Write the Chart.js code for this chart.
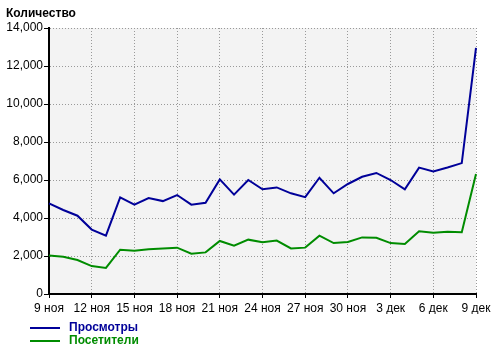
<!DOCTYPE html>
<html>
<head>
<meta charset="utf-8">
<script src="https://cdn.jsdelivr.net/npm/chart.js@4"></script>
<style>
  body { margin: 0; background: #fff; }
  #wrap { position: relative; width: 500px; height: 351px; font-family: "Liberation Sans", Arial, sans-serif; }
  #titre { position: absolute; left: 6px; top: 6px; font-size: 12px; font-weight: bold; color: #000; }
  .leg { position: absolute; left: 30px; font-size: 12px; font-weight: bold; }
  .leg span.trait { position: absolute; left: 0; top: 7px; width: 30px; height: 2px; }
  .leg span.txt { position: absolute; left: 39px; top: 0; white-space: nowrap; }
</style>
</head>
<body>
<div id="wrap">
  <canvas id="myChart" width="500" height="351"></canvas>
  <div id="titre">Количество</div>
  <div class="leg" style="top:320px;color:#000099"><span class="trait" style="background:#000099"></span><span class="txt">Просмотры</span></div>
  <div class="leg" style="top:333px;color:#008c00"><span class="trait" style="background:#008c00"></span><span class="txt">Посетители</span></div>
</div>
<script>
// jours du 9 nov au 9 dec
let jours = ["9 ноя","10 ноя","11 ноя","12 ноя","13 ноя","14 ноя","15 ноя","16 ноя","17 ноя","18 ноя","19 ноя",
    "20 ноя","21 ноя","22 ноя","23 ноя","24 ноя","25 ноя","26 ноя","27 ноя","28 ноя","29 ноя","30 ноя",
    "1 дек","2 дек","3 дек","4 дек","5 дек","6 дек","7 дек","8 дек","9 дек"];

let prosmotry = [4770, 4420, 4120, 3390, 3070, 5090, 4700, 5050, 4890, 5210, 4700, 4800, 6030, 5230, 6000, 5510,
    5610, 5300, 5100, 6120, 5300, 5790, 6170, 6370, 6000, 5510, 6650, 6450, 6660, 6890, 12950];
let posetiteli = [2030, 1960, 1790, 1470, 1370, 2330, 2280, 2350, 2390, 2440, 2120, 2190, 2790, 2540, 2860, 2720,
    2810, 2400, 2440, 3070, 2680, 2740, 2980, 2960, 2680, 2630, 3300, 3230, 3280, 3250, 6320];

let yTicks = [0, 2000, 4000, 6000, 8000, 10000, 12000, 14000];

// fond gris de la zone du graphique
let fondGris = {
    id: 'fondGris',
    beforeDraw(chart) {
        let a = chart.chartArea;
        let ctx = chart.ctx;
        ctx.save();
        ctx.fillStyle = '#f3f3f3';
        ctx.fillRect(a.left, a.top, a.right - a.left, a.bottom - a.top);
        ctx.restore();
    }
};

let ctx = document.getElementById('myChart').getContext('2d');
let chart = new Chart(ctx, {
    type: 'line',
    data: {
        labels: jours,
        datasets: [
            { label: 'Просмотры', data: prosmotry, borderColor: '#000099', borderWidth: 2, pointRadius: 0, tension: 0, fill: false },
            { label: 'Посетители', data: posetiteli, borderColor: '#008c00', borderWidth: 2, pointRadius: 0, tension: 0, fill: false }
        ]
    },
    options: {
        responsive: false,
        animation: false,
        layout: { padding: { top: 28, right: 24, bottom: 37, left: 0 } },
        plugins: { legend: { display: false }, tooltip: { enabled: false } },
        font: { family: '"Liberation Sans", Arial, sans-serif', size: 12 },
        scales: {
            x: {
                afterFit: s => { s.height = 20; },
                grid: { color: '#999', tickColor: '#000', tickLength: 4, tickWidth: 1 },
                border: { color: '#000', width: 2, dash: [1, 2] },
                ticks: {
                    autoSkip: false, maxRotation: 0, padding: 3, color: '#000',
                    font: { family: '"Liberation Sans", Arial, sans-serif', size: 12 },
                    callback: function(value, index) { return index % 3 === 0 ? this.getLabelForValue(value) : null; }
                }
            },
            y: {
                min: 0, max: 14000,
                afterFit: s => { s.width = 49; },
                afterBuildTicks: s => { s.ticks = yTicks.map(v => ({ value: v })); },
                grid: { color: '#999', tickColor: '#000', tickLength: 5, tickWidth: 1 },
                border: { color: '#000', width: 2, dash: [1, 2] },
                ticks: {
                    padding: 1, color: '#000',
                    font: { family: '"Liberation Sans", Arial, sans-serif', size: 12 },
                    callback: v => v.toLocaleString('en-US')
                }
            }
        }
    },
    plugins: [fondGris]
});
</script>
</body>
</html>
